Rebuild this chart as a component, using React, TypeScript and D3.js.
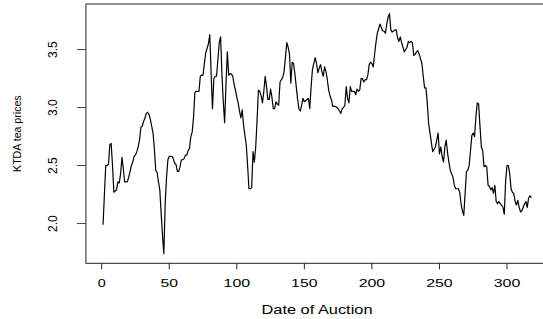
import React from "react";
import * as d3 from "d3";

// KTDA tea prices, one value per auction
const prices: number[] = [
  1.99, 2.25, 2.5, 2.5, 2.51, 2.68, 2.69, 2.5, 2.27, 2.28,
  2.29, 2.36, 2.35, 2.43, 2.57, 2.47, 2.36, 2.36, 2.36, 2.4,
  2.45, 2.5, 2.53, 2.58, 2.59, 2.62, 2.66, 2.72, 2.83, 2.84,
  2.88, 2.91, 2.95, 2.96, 2.94, 2.9, 2.84, 2.78, 2.64, 2.46,
  2.44, 2.36, 2.29, 2.09, 1.9, 1.74, 2.17, 2.4, 2.55, 2.58,
  2.58, 2.58, 2.56, 2.52, 2.51, 2.45, 2.45, 2.49, 2.55, 2.55,
  2.56, 2.59, 2.59, 2.63, 2.65, 2.75, 2.79, 2.92, 3.13, 3.14,
  3.14, 3.14, 3.27, 3.28, 3.28, 3.38, 3.47, 3.51, 3.55, 3.63,
  3.29, 2.99, 3.25, 3.27, 3.27, 3.41, 3.56, 3.61, 3.29, 3.05,
  2.87, 3.2, 3.48, 3.28, 3.29, 3.29, 3.27, 3.2, 3.15, 3.09,
  3.04, 2.97, 2.91, 2.98, 2.85, 2.76, 2.68, 2.5, 2.3, 2.3,
  2.31, 2.62, 2.53, 2.66, 2.89, 3.15, 3.14, 3.1, 3.04, 3.14,
  3.27, 3.18, 3.07, 3.07, 3.16, 3.09, 2.99, 2.99, 3.05, 3.03,
  3.02, 3.22, 3.24, 3.26, 3.31, 3.43, 3.56, 3.52, 3.46, 3.21,
  3.39, 3.38, 3.29, 3.18, 3.07, 2.99, 2.97, 3.02, 3.08, 3.05,
  3.06, 3.07, 3.08, 2.99, 3.18, 3.33, 3.38, 3.43, 3.38, 3.3,
  3.34, 3.37, 3.31, 3.27, 3.35, 3.31, 3.24, 3.15, 3.1, 3.07,
  3.01, 3.01, 3.01, 3.0, 2.99, 2.97, 2.95, 2.99, 3.0, 3.02,
  3.18, 3.08, 3.04, 3.18, 3.14, 3.14, 3.14, 3.11, 3.16, 3.14,
  3.15, 3.25, 3.25, 3.22, 3.24, 3.24, 3.28, 3.37, 3.39, 3.38,
  3.35, 3.46, 3.56, 3.64, 3.68, 3.72, 3.69, 3.66, 3.66, 3.64,
  3.72, 3.78, 3.81, 3.67, 3.65, 3.66, 3.67, 3.67, 3.6, 3.57,
  3.61, 3.56, 3.52, 3.48, 3.5, 3.52, 3.57, 3.56, 3.57, 3.56,
  3.45, 3.46, 3.48, 3.49, 3.46, 3.42, 3.38, 3.27, 3.17, 3.17,
  3.04, 2.86, 2.78, 2.7, 2.62, 2.64, 2.66, 2.72, 2.78, 2.6,
  2.66, 2.58, 2.53, 2.66, 2.72, 2.61, 2.53, 2.46, 2.43, 2.4,
  2.33, 2.3, 2.3, 2.3, 2.27, 2.17, 2.11, 2.07, 2.26, 2.45,
  2.46, 2.5, 2.63, 2.76, 2.78, 2.75, 2.92, 3.04, 3.03, 2.84,
  2.66, 2.63, 2.49, 2.5, 2.49, 2.33, 2.32, 2.29, 2.31, 2.26,
  2.33, 2.19, 2.17, 2.19, 2.17, 2.16, 2.14, 2.08, 2.37, 2.5,
  2.5, 2.43, 2.3, 2.27, 2.26, 2.19, 2.16, 2.2, 2.14, 2.1,
  2.11, 2.14, 2.17, 2.19, 2.14, 2.22, 2.24, 2.22,
];

const xTicks = [0, 50, 100, 150, 200, 250, 300];
const yTicks = [2.0, 2.5, 3.0, 3.5];
const xTitle = "Date of Auction";
const yTitle = "KTDA tea prices";

const W = 543;
const H = 319;
const font = "'Liberation Sans', Arial, Helvetica, sans-serif";

// base R style 4% padding of the data range
function padRange(lo: number, hi: number): [number, number] {
  const d = (hi - lo) * 0.04;
  return [lo - d, hi + d];
}

export default function App() {
  const n = prices.length;
  const xDom = padRange(1, n);
  const yDom = padRange(d3.min(prices) as number, d3.max(prices) as number);

  // x(0) sits at ~101.7px and x(300) at ~507px in the reference
  const pxPerUnit = 1.351;
  const left = 101.7 + xDom[0] * pxPerUnit;
  const right = 101.7 + xDom[1] * pxPerUnit;
  const top = 4;
  const bottom = 263.3;

  const x = d3.scaleLinear().domain(xDom).range([left, right]);
  const y = d3.scaleLinear().domain(yDom).range([bottom, top]);

  const line = d3
    .line<number>()
    .x((_, i) => x(i + 1))
    .y((d) => y(d));

  const xLabelLen = (s: string) => (s.length === 1 ? 8 : s.length === 2 ? 17.5 : 26.5);

  return (
    <svg
      width={W}
      height={H}
      style={{ position: "absolute", left: 0, top: 0, background: "#fff" }}
    >
      <rect x={0} y={0} width={W} height={H} fill="#fff" />
      <path d={line(prices) ?? ""} fill="none" stroke="#000" strokeWidth={1.2} strokeLinejoin="round" />

      {/* frame */}
      <rect
        x={left}
        y={top}
        width={right - left}
        height={bottom - top}
        fill="none"
        stroke="#222"
        strokeWidth={1}
      />

      {/* x axis */}
      <g fontFamily={font} fontSize={11} fill="#000">
        {xTicks.map((t) => (
          <g key={t}>
            <line x1={x(t)} x2={x(t)} y1={bottom} y2={bottom + 6} stroke="#222" />
            <text
              x={x(t)}
              y={287}
              textAnchor="middle"
              textLength={xLabelLen(String(t))}
              lengthAdjust="spacingAndGlyphs"
            >
              {t}
            </text>
          </g>
        ))}
      </g>

      {/* y axis */}
      <g fontFamily={font} fontSize={12} fill="#000">
        {yTicks.map((t) => (
          <g key={t}>
            <line x1={left} x2={left - 9} y1={y(t)} y2={y(t)} stroke="#444" />
            <text
              transform={`translate(56.5,${y(t)}) rotate(-90)`}
              textAnchor="middle"
            >
              {d3.format(".1f")(t)}
            </text>
          </g>
        ))}
      </g>

      <text
        x={317}
        y={314}
        fontFamily={font}
        fontSize={12.5}
        fill="#000"
        textAnchor="middle"
        textLength={111}
        lengthAdjust="spacingAndGlyphs"
      >
        {xTitle}
      </text>
      <text
        transform={`translate(21,${(top + bottom) / 2}) rotate(-90)`}
        fontFamily={font}
        fontSize={10.6}
        fill="#000"
        textAnchor="middle"
      >
        {yTitle}
      </text>
    </svg>
  );
}
